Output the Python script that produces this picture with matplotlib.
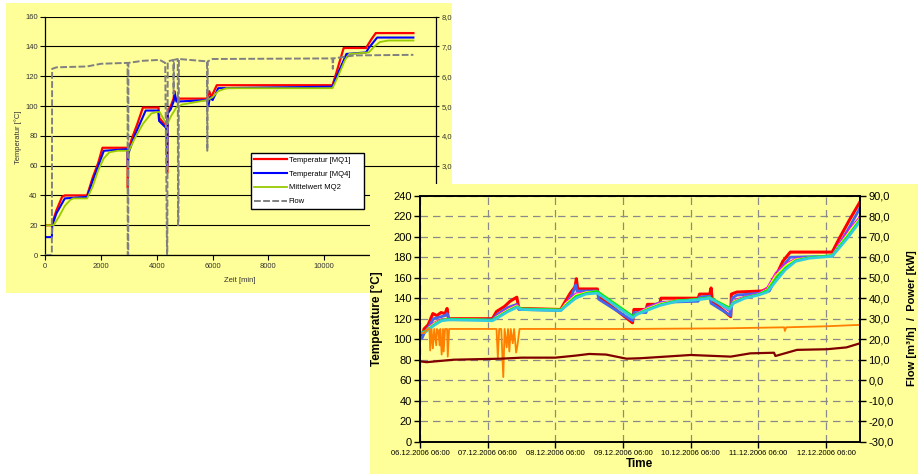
import matplotlib
matplotlib.use("Agg")
import matplotlib.pyplot as plt
from matplotlib.patches import Rectangle
from matplotlib.ticker import FuncFormatter

plt.rcParams['font.family'] = ['Liberation Sans', 'DejaVu Sans']

W, H = 918, 474
YELLOW = "#FFFF99"

# ---- Diagramm 1 (hinten): Zeit [min] ----
mq1_t = [0, 230, 260, 400, 600, 700, 1500, 1700, 1900, 2050, 2950, 2960, 2975, 3100, 3300, 3500,
         4060, 4090, 4350, 4370, 4390, 4500, 4600, 4630, 4660, 4700, 5800, 5880, 5950, 6150,
         10300, 10400, 10700, 11500, 11700, 11850, 13200]
mq1_v = [20, 20, 22, 30, 39, 40, 40, 52, 62, 72, 72, 45, 70, 78, 88, 99,
         99, 92, 86, 55, 97, 100, 105, 110, 105, 105, 105, 110, 106, 114,
         114, 120, 139, 139, 145, 149, 149]

mq4_t = [0, 235, 250, 400, 700, 1500, 1700, 1900, 2100, 2950, 2960, 2975, 3200, 3600, 4050,
         4080, 4350, 4370, 4390, 4500, 4600, 4650, 4700, 5800, 5850, 5900, 6000, 6200, 10300, 10400,
         10800, 11500, 11600, 11900, 13200]
mq4_v = [12, 12, 20, 28, 38, 39, 50, 60, 70, 71, 60, 68, 80, 97, 97,
         90, 85, 60, 95, 98, 103, 108, 103, 104, 100, 106, 104, 112, 113, 118,
         135, 136, 139, 146, 146]

mq2_t = [0, 300, 500, 700, 900, 1000, 1500, 1700, 1900, 2100, 2300, 2600, 3000, 3200, 3500,
         3800, 4000, 4100, 4250, 4380, 4500, 4700, 4900, 5500, 5800, 6000, 6200, 6500, 10300, 10500,
         10750, 10900, 11600, 11800, 12000, 12300, 13200]
mq2_v = [20, 20, 26, 33, 37, 38, 38, 46, 57, 65, 69, 70, 70, 78, 88,
         95, 96, 96, 91, 88, 93, 99, 101, 103, 104, 106, 110, 112, 112, 120,
         131, 135, 136, 140, 143, 144, 144]

flow1_t = [0, 235, 245, 400, 1500, 2000, 2950, 2955, 2975, 2980, 3500, 4100, 4300, 4365, 4375,
           4390, 4590, 4600, 4615, 4750, 4760, 4775, 4790, 5800, 5810, 5825, 6000, 10300, 10310, 10330,
           10700, 11100, 13200]
flow1_v = [0, 0, 6.25, 6.3, 6.33, 6.42, 6.45, 0, 0, 6.45, 6.52, 6.55, 6.45, 0, 0,
           6.5, 6.55, 5.4, 6.55, 6.58, 1.0, 1.0, 6.58, 6.5, 3.5, 6.5, 6.58, 6.6, 6.25, 6.6,
           6.65, 6.7, 6.72]

legend1 = ["Temperatur [MQ1]", "Temperatur [MQ4]", "Mittelwert MQ2", "Flow"]

# ---- Diagramm 2 (vorne): Tage ab 06.12.2006 06:00 ----
day_labels = ["06.12.2006 06:00", "07.12.2006 06:00", "08.12.2006 06:00", "09.12.2006 06:00",
              "10.12.2006 06:00", "11.12.2006 06:00", "12.12.2006 06:00"]

t_red = [0.00, 0.03, 0.06, 0.12, 0.19, 0.25, 0.31, 0.37, 0.40, 0.42, 1.07, 1.13, 1.25, 1.33, 1.43,
         1.46, 2.08, 2.13, 2.22, 2.29, 2.31, 2.33, 2.62, 2.64, 3.14, 3.16, 3.34, 3.36, 3.54, 3.56,
         4.11, 4.13, 4.28, 4.30, 4.32, 4.59, 4.60, 4.68, 5.05, 5.16, 5.26, 5.36, 5.47, 6.09, 6.20,
         6.35, 6.50]
v_red = [104, 103, 110, 114, 125, 123, 126, 125, 130, 120, 120, 127, 132, 137, 141,
         130, 129, 135, 145, 151, 159, 149, 149, 142, 116, 129, 129, 134, 134, 140,
         140, 144, 144, 150, 137, 122, 144, 146, 147, 150, 162, 176, 185, 185, 199,
         217, 234]

t_blue = [0.00, 0.03, 0.07, 0.13, 0.20, 0.37, 0.40, 0.43, 1.07, 1.14, 1.30, 1.43, 1.46, 2.08, 2.14,
          2.25, 2.30, 2.32, 2.62, 2.64, 3.14, 3.16, 3.34, 3.36, 3.56, 4.11, 4.13, 4.28, 4.30, 4.59,
          4.61, 4.68, 5.05, 5.16, 5.32, 5.47, 6.09, 6.20, 6.35, 6.50]
v_blue = [102, 101, 107, 112, 120, 123, 125, 119, 119, 124, 131, 134, 129, 128, 132,
          144, 153, 147, 147, 139, 118, 126, 126, 131, 136, 137, 141, 142, 135, 123,
          140, 143, 145, 147, 168, 180, 181, 193, 210, 228]

t_mix = [0.00, 0.08, 0.14, 0.22, 0.32, 0.45, 1.07, 1.15, 1.30, 1.43, 1.50, 2.08, 2.15, 2.30, 2.45,
         2.62, 3.14, 3.20, 3.35, 3.55, 3.80, 4.05, 4.28, 4.57, 4.63, 4.80, 5.00, 5.13, 5.25, 5.40,
         5.55, 5.75, 6.09, 6.18, 6.32, 6.50]
v_magenta = [105, 107, 113, 117, 120, 120, 119, 124, 130, 134, 130, 128, 136, 145, 146,
             146, 120, 126, 131, 136, 138, 139, 141, 127, 138, 142, 145, 151, 165, 174,
             179, 180, 182, 193, 206, 220]
v_yellow = [106, 108, 112, 116, 119, 120, 119, 123, 129, 133, 130, 129, 135, 143, 146,
            147, 122, 125, 130, 135, 138, 139, 141, 130, 137, 141, 144, 149, 162, 172,
            178, 180, 182, 191, 203, 218]
v_green = [107, 108, 111, 115, 119, 120, 119, 122, 128, 132, 130, 129, 133, 142, 145,
           147, 123, 125, 129, 134, 138, 139, 141, 131, 136, 141, 144, 148, 159, 170,
           177, 180, 182, 190, 201, 217]
v_cyan = [106, 107, 110, 114, 118, 119, 118, 121, 127, 131, 129, 128, 132, 140, 144,
          145, 121, 124, 128, 133, 137, 138, 140, 129, 135, 140, 143, 146, 156, 168,
          176, 179, 181, 188, 199, 215]

t_flow = [0.00, 0.06, 0.11, 0.14, 0.15, 0.17, 0.19, 0.21, 0.24, 0.25, 0.27, 0.29, 0.30, 0.32, 0.34,
          0.35, 0.37, 0.40, 0.41, 0.43, 0.46, 1.13, 1.15, 1.17, 1.20, 1.23, 1.25, 1.28, 1.30, 1.32,
          1.34, 1.37, 1.39, 1.42, 1.44, 1.47, 3.00, 4.50, 5.38, 5.39, 5.41, 6.00, 6.50]
v_flow = [23, 23, 25, 25, 14.5, 25, 15.5, 25, 17, 25, 24, 17, 25, 12.5, 25,
          14, 25, 25, 11.5, 25, 25, 25, 11, 25, 25, 1.5, 25, 16, 25, 14,
          25, 18, 25, 13.5, 17, 25, 25, 25.3, 25.8, 24, 25.8, 26.3, 27]

t_power = [0.00, 0.10, 0.50, 1.20, 1.50, 2.00, 2.30, 2.50, 2.75, 3.05, 3.25, 4.00, 4.59, 4.88, 5.23,
           5.25, 5.57, 6.01, 6.30, 6.50]
v_power = [9.2, 8.8, 10.0, 10.5, 11.0, 11.0, 12.0, 12.8, 12.5, 10.5, 10.7, 12.3, 11.5, 13.1, 13.4,
           11.8, 14.8, 15.1, 16.0, 18.0]


def px_box(x0, y0, x1, y1):
    # Pixel (oben links) -> Figure-Koordinaten
    return [x0 / W, 1 - y1 / H, (x1 - x0) / W, (y1 - y0) / H]


def comma(v, pos):
    return f"{v:.1f}".replace(".", ",")


fig = plt.figure(figsize=(W / 100, H / 100), dpi=100)

# Hintergrundflaechen
fig.add_artist(Rectangle((6 / W, 1 - 293 / H), 446 / W, 290 / H, transform=fig.transFigure,
                         facecolor=YELLOW, edgecolor="none", zorder=0))
fig.add_artist(Rectangle((370 / W, 0), 548 / W, (H - 184) / H, transform=fig.transFigure,
                         facecolor=YELLOW, edgecolor="none", zorder=2))

# ================= Diagramm 1 =================
ax1 = fig.add_axes(px_box(45.3, 16.7, 435.7, 255))
ax1.set_zorder(1)
ax1.patch.set_visible(False)
l1, = ax1.plot(mq1_t, mq1_v, color="#FF0000", lw=1.6)
l2, = ax1.plot(mq4_t, mq4_v, color="#0000FF", lw=1.5)
l3, = ax1.plot(mq2_t, mq2_v, color="#99CC00", lw=1.3)
ax1.set_xlim(0, 14000)
ax1.set_ylim(0, 160)
ax1.set_xticks(range(0, 14001, 2000))
ax1.set_yticks(range(0, 161, 20))
ax1.grid(axis="y", color="black", lw=0.8)
ax1.set_axisbelow(True)
ax1.tick_params(labelsize=5.5, labelcolor="#333333", length=3.5, width=0.8, pad=2)
for s in ["top", "right"]:
    ax1.spines[s].set_visible(False)
for s in ["left", "bottom"]:
    ax1.spines[s].set_linewidth(0.9)

ax1b = ax1.twinx()
ax1b.set_zorder(1.5)
l4, = ax1b.plot(flow1_t, flow1_v, color="#808080", lw=1.4, linestyle=(0, (3.5, 1.2)))
ax1b.set_ylim(0, 8)
ax1b.set_yticks(range(0, 9))
ax1b.yaxis.set_major_formatter(FuncFormatter(comma))
ax1b.tick_params(labelsize=5.5, labelcolor="#333333", length=5, width=0.8, direction="inout", pad=2)
for s in ["top", "left", "bottom"]:
    ax1b.spines[s].set_visible(False)
ax1b.spines["right"].set_linewidth(0.9)

fig.text(18 / W, 1 - 137 / H, "Temperatur [°C]", rotation=90, ha="center", va="center",
         fontsize=5.5, color="#333333")
fig.text(240 / W, 1 - 280 / H, "Zeit [min]", ha="center", va="center", fontsize=5.5, color="#333333")

ax1b.legend([l1, l2, l3, l4], legend1, loc="upper left", mode="expand",
            bbox_to_anchor=px_box(251, 153, 364, 208), bbox_transform=fig.transFigure,
            fontsize=5.5, fancybox=False, edgecolor="black", framealpha=1, borderpad=0.45,
            labelspacing=0.85, handlelength=4.2, handletextpad=0.3, borderaxespad=0)

# ================= Diagramm 2 =================
ax2 = fig.add_axes(px_box(420, 195.7, 860, 441.7))
ax2.set_zorder(3)
ax2.patch.set_visible(False)
ax2.plot(t_red, v_red, color="#FF0000", lw=2.2)
ax2.plot(t_blue, v_blue, color="#4466EE", lw=2.0)
ax2.plot(t_mix, v_magenta, color="#FF00FF", lw=0.8)
ax2.plot(t_mix, v_yellow, color="#FFFF00", lw=1.0)
ax2.plot(t_mix, v_green, color="#00EE00", lw=1.3)
ax2.plot(t_mix, v_cyan, color="#33CCDD", lw=2.0)
ax2.set_xlim(0, 6.5)
ax2.set_ylim(0, 240)
ax2.set_xticks(range(len(day_labels)))
ax2.set_xticklabels(day_labels)
ax2.set_yticks(range(0, 241, 20))
ax2.grid(True, color="#8A8A8A", lw=0.9, linestyle=(0, (6, 4)))
ax2.set_axisbelow(True)
ax2.tick_params(axis="y", labelsize=8, length=4, width=1, pad=2)
ax2.tick_params(axis="x", labelsize=5.5, length=4, width=1, pad=2)
for s in ax2.spines.values():
    s.set_linewidth(1.2)

ax2b = ax2.twinx()
ax2b.set_zorder(3.5)
ax2b.plot(t_flow, v_flow, color="#FF7F00", lw=1.3)
ax2b.plot(t_power, v_power, color="#800000", lw=1.6)
ax2b.set_ylim(-30, 90)
ax2b.set_yticks(range(-30, 91, 10))
ax2b.yaxis.set_major_formatter(FuncFormatter(comma))
ax2b.tick_params(labelsize=8, length=4, width=1, pad=2)
for s in ax2b.spines.values():
    s.set_linewidth(1.2)

fig.text(377 / W, 1 - 319 / H, "Temperature [°C]", rotation=90, ha="center", va="center",
         fontsize=8.5, fontweight="bold", zorder=5)
fig.text(912 / W, 1 - 318 / H, "Flow [m³/h]  /  Power [kW]", rotation=90, ha="center", va="center",
         fontsize=8, fontweight="bold", zorder=5)
fig.text(640 / W, 1 - 464 / H, "Time", ha="center", va="center", fontsize=8.5,
         fontweight="bold", zorder=5)

fig.savefig("out.png", dpi=100)
